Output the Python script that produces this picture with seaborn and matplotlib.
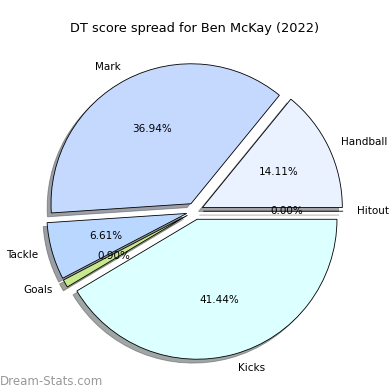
import matplotlib
matplotlib.use("Agg")
import matplotlib.pyplot as plt
import seaborn as sns

# DT score spread data
categories = ["Handball", "Mark", "Tackle", "Goals", "Kicks", "Hitout"]
shares = [14.11, 36.94, 6.61, 0.90, 41.44, 0.00]
slice_colors = ["#eaf1ff", "#c5d9ff", "#b9d7ff", "#c8e88e", "#dcffff", "#ffffff"]

sns.set_style("white")
plt.rcParams["font.family"] = ["DejaVu Sans"]
plt.rcParams["text.color"] = "black"

fig = plt.figure(figsize=(3.9, 3.9), dpi=100)
ax = fig.add_axes([0.051, 0.010, 0.897, 0.897])
ax.pie(
    shares,
    labels=categories,
    colors=slice_colors,
    explode=[0.06] * len(shares),
    autopct="%1.2f%%",
    shadow=True,
    startangle=0,
    wedgeprops={"edgecolor": "black", "linewidth": 0.6},
    textprops={"fontsize": 7.5, "color": "black"},
)
fig.suptitle("DT score spread for Ben McKay (2022)", fontsize=9.3, y=0.943)
fig.text(0.0, 0.013, "Dream-Stats.com", color="#999999", fontsize=8.5)

plt.savefig("out.png", dpi=100)
plt.close()
